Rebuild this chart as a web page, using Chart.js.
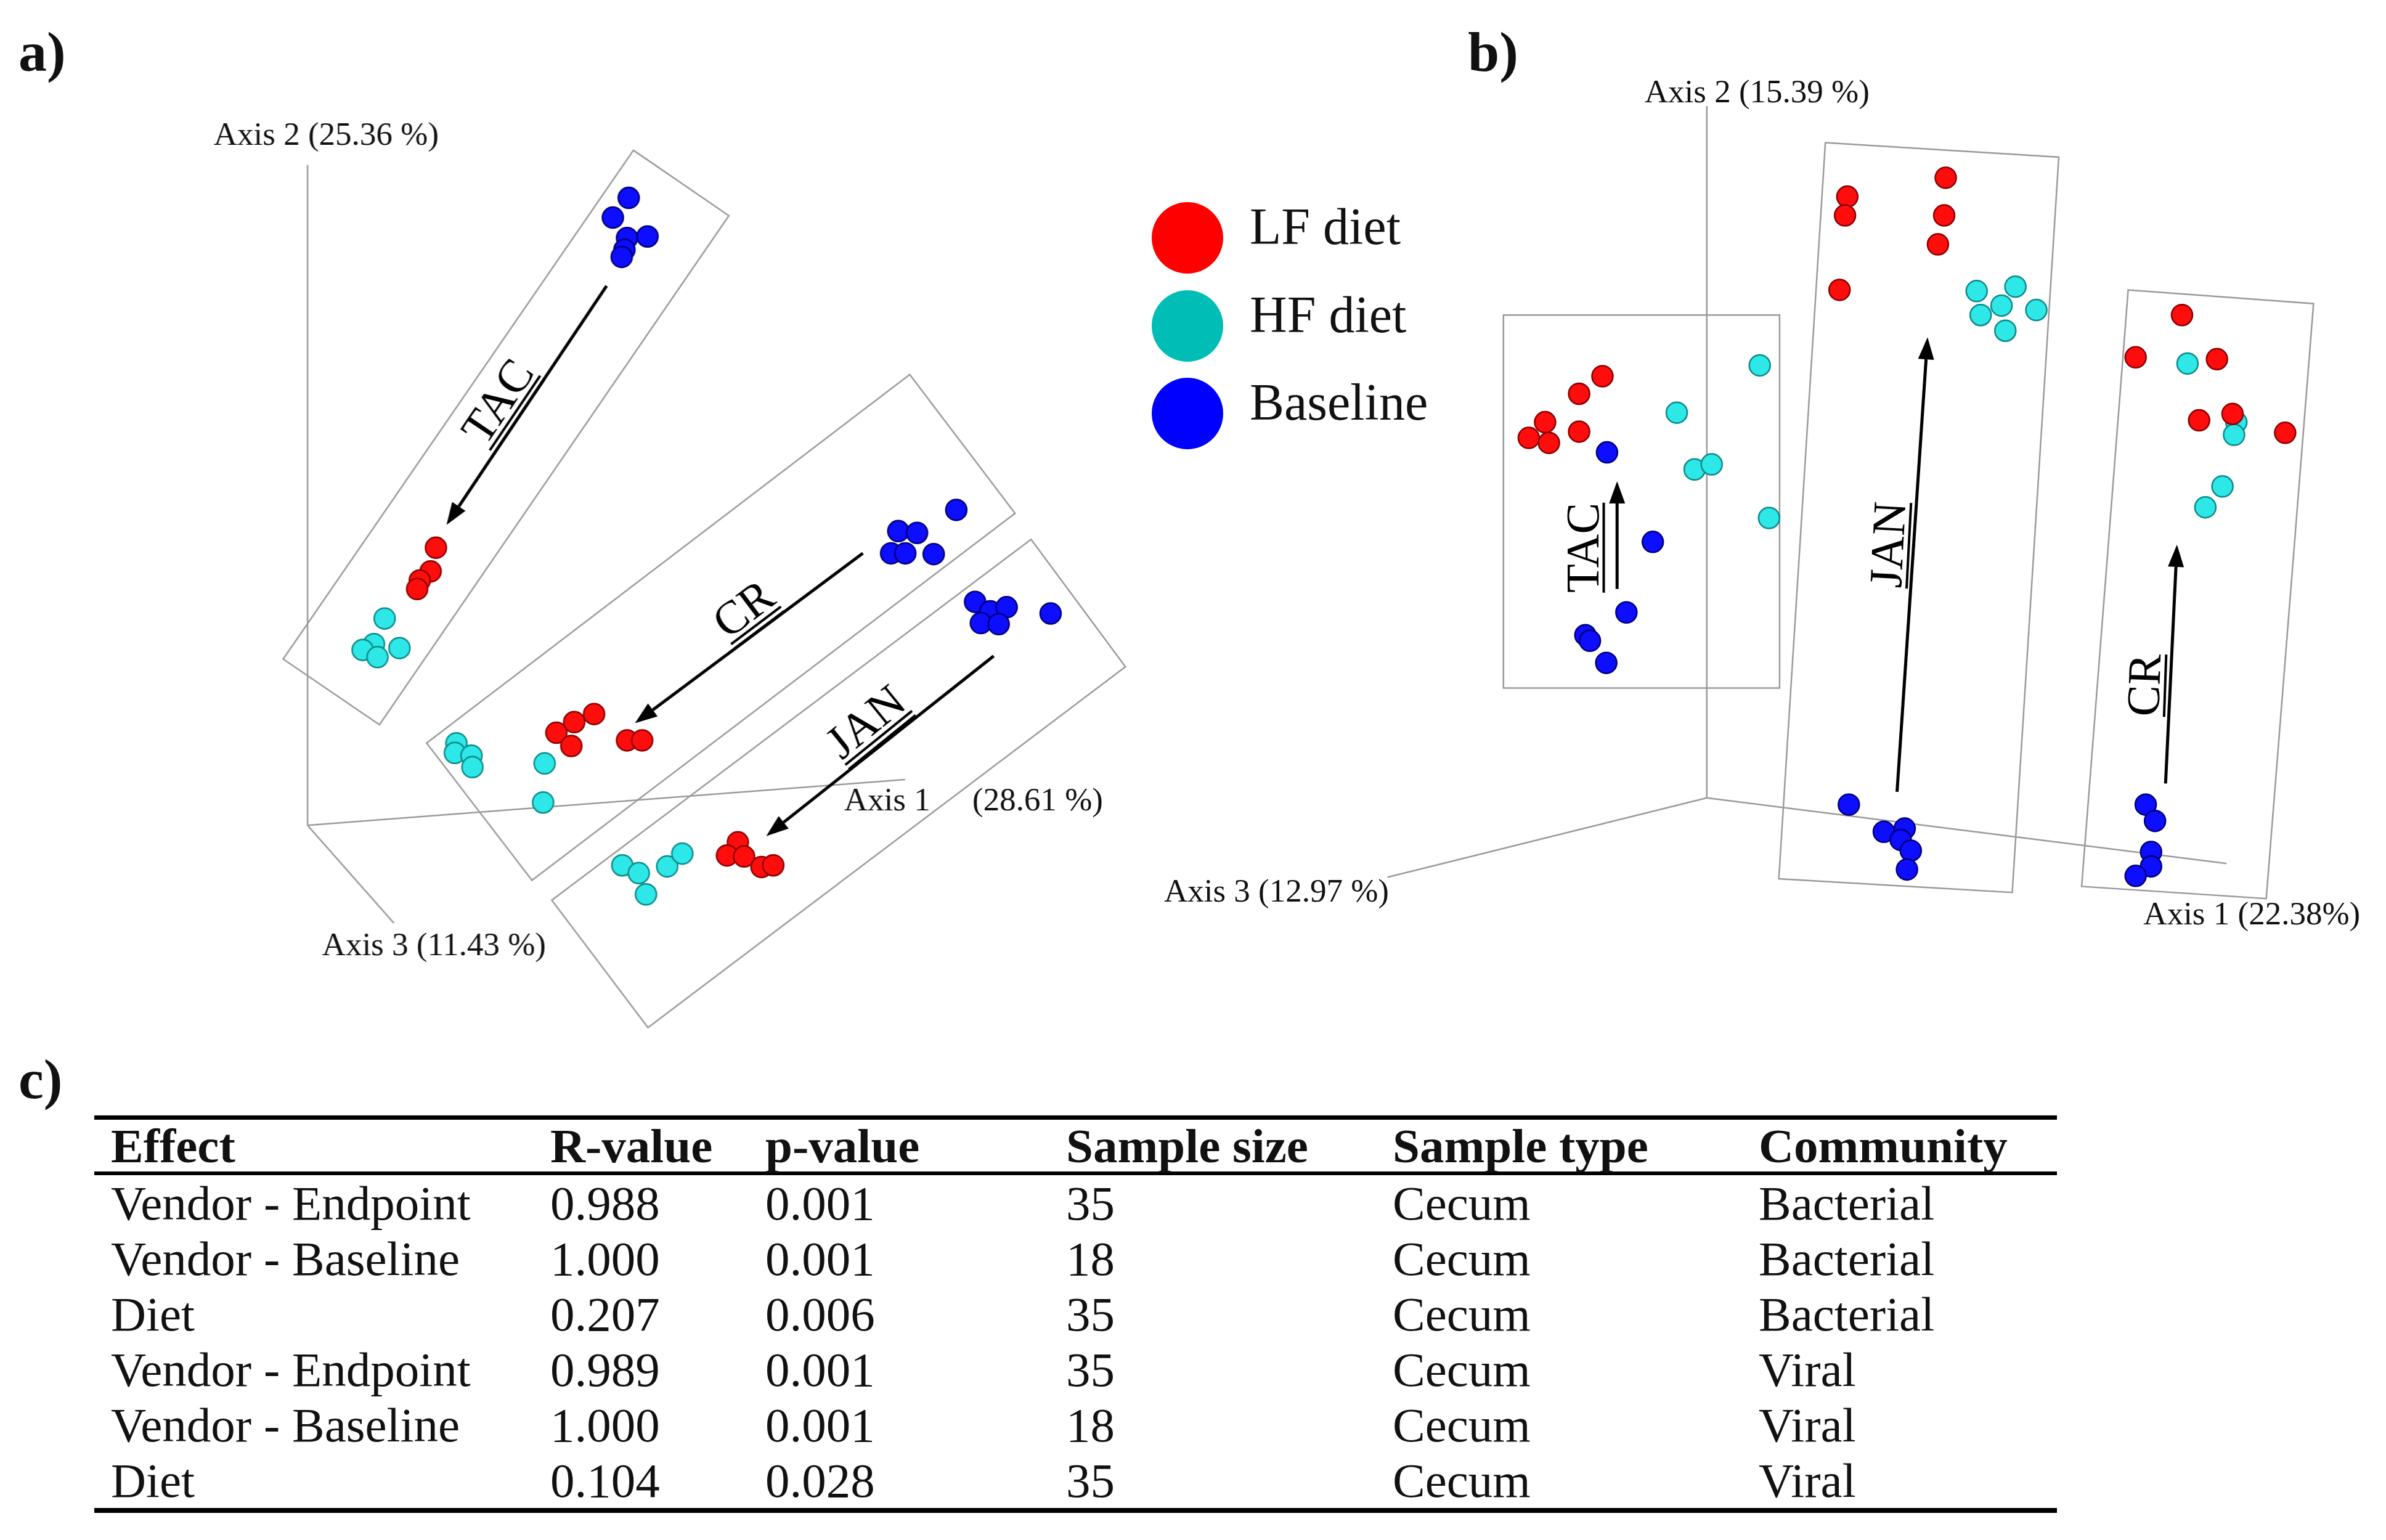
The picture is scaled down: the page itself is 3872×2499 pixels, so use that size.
<!DOCTYPE html>
<html>
<head>
<meta charset="utf-8">
<title>PCoA vendor / diet</title>
<script src="https://cdn.jsdelivr.net/npm/chart.js@4.4.0/dist/chart.umd.min.js"></script>
<style>
  body { margin: 0; background: #fff; }
  #page { position: relative; width: 3872px; height: 2499px; overflow: hidden;
          font-family: "Liberation Serif", "Times New Roman", serif; color: #111; }
  .plot { position: absolute; }
  .tag { position: absolute; font-weight: bold; font-size: 92px; line-height: 1; }
  .key { position: absolute; left: 2028px; font-size: 84px; line-height: 84px; white-space: nowrap; }
  .dot { position: absolute; width: 116px; height: 116px; border-radius: 50%; }
  #stats { position: absolute; left: 153px; top: 1810px; width: 3185px; border-collapse: collapse;
           table-layout: fixed; font-size: 79px; line-height: 1; border-top: 7px solid #000; border-bottom: 8px solid #000; }
  #stats th, #stats td { padding: 0; text-align: left; vertical-align: middle; white-space: nowrap; }
  #stats th { height: 84px; border-bottom: 6px solid #000; font-weight: bold; }
  #stats td { height: 90px; }
  #stats th:first-child, #stats td:first-child { padding-left: 27px; }
</style>
</head>
<body>
<div id="page">
  <div class="tag" style="left:30px; top:38px;">a)</div>
  <div class="tag" style="left:2382px; top:38px;">b)</div>
  <div class="tag" style="left:30px; top:1705px;">c)</div>

  <div class="plot" id="plotA"><canvas id="chartA"></canvas></div>
  <div class="plot" id="plotB"><canvas id="chartB"></canvas></div>

  <div id="legend"></div>

  <table id="stats">
    <colgroup>
      <col style="width:740px"><col style="width:349px"><col style="width:488px">
      <col style="width:530px"><col style="width:594px"><col style="width:484px">
    </colgroup>
    <thead><tr id="statsHead"></tr></thead>
    <tbody id="statsBody"></tbody>
  </table>
</div>

<script>
// reference drawn at 1564 px wide, page is 3872 px
const K = 3872 / 1564;

const seriesNames = ['LF diet', 'HF diet', 'Baseline'];
const pointFill = ['#ff0d0d', '#2ee8e8', '#0d0dff'];
const pointEdge = ['#8a0000', '#0b8a8a', '#00007a'];
const keyFill = ['#ff0000', '#00bdb5', '#0000ff'];

// ---- panel a: bacterial PCoA (projected positions) ----
// groups in order TAC, CR, JAN
const aLF = [
  [285.6, 359.0], [282.1, 374.5], [275.0, 380.5], [273.3, 386.1],
  [389.2, 468.0], [376.2, 473.3], [364.5, 480.3], [374.3, 489.0], [410.8, 485.3], [420.7, 485.3],
  [483.4, 552.1], [476.3, 560.7], [487.5, 561.4], [498.9, 568.3], [506.6, 567.2]
];
const aHF = [
  [252.0, 405.4], [245.0, 422.2], [237.6, 426.0], [247.3, 430.7], [261.7, 424.8],
  [299.0, 487.2], [298.0, 493.5], [308.9, 495.3], [309.5, 502.8], [356.8, 500.4], [355.8, 526.0],
  [407.7, 567.2], [418.5, 572.3], [423.2, 586.2], [437.1, 567.9], [447.0, 559.5]
];
const aBase = [
  [411.9, 129.7], [401.5, 142.6], [410.8, 156.0], [424.2, 155.0], [409.1, 163.7], [407.3, 168.4],
  [626.5, 334.2], [588.5, 348.1], [600.8, 349.3], [583.8, 362.7], [593.1, 362.7], [611.7, 363.2],
  [638.8, 394.5], [648.8, 400.7], [659.5, 398.0], [642.6, 408.4], [654.3, 409.1], [688.3, 402.1]
];

// ---- panel b: viral PCoA (projected positions) ----
// groups in order TAC, JAN, CR
const bLF = [
  [1050.4, 246.6], [1035.1, 258.1], [1012.8, 276.7], [1002.1, 287.0], [1015.3, 290.3], [1035.1, 282.9],
  [1210.9, 128.9], [1209.4, 141.2], [1205.8, 190.0], [1275.4, 116.5], [1274.4, 141.2], [1270.3, 160.2],
  [1430.3, 206.5], [1399.9, 234.2], [1453.2, 235.4], [1441.5, 275.5], [1463.4, 271.3], [1497.9, 283.7]
];
const bHF = [
  [1153.5, 239.5], [1099.1, 270.5], [1110.8, 307.7], [1122.0, 304.4], [1159.6, 339.5],
  [1295.7, 190.8], [1321.1, 187.9], [1312.0, 200.3], [1298.3, 206.5], [1334.8, 203.2], [1314.5, 216.8],
  [1433.9, 238.3], [1465.9, 276.7], [1464.4, 285.0], [1456.8, 318.8], [1445.6, 332.5]
];
const bBase = [
  [1053.4, 296.5], [1083.4, 355.2], [1066.1, 401.4], [1039.2, 416.3], [1042.2, 420.0], [1052.9, 434.5],
  [1211.9, 527.4], [1234.8, 545.2], [1248.5, 543.1], [1245.9, 550.5], [1252.5, 557.6], [1250.0, 569.9],
  [1406.5, 527.4], [1412.6, 538.1], [1410.0, 558.4], [1410.0, 567.9], [1399.9, 574.1]
];

// ---- table c ----
const tableHead = ['Effect', 'R-value', 'p-value', 'Sample size', 'Sample type', 'Community'];
const effects = ['Vendor - Endpoint', 'Vendor - Baseline', 'Diet', 'Vendor - Endpoint', 'Vendor - Baseline', 'Diet'];
const rValues = ['0.988', '1.000', '0.207', '0.989', '1.000', '0.104'];
const pValues = ['0.001', '0.001', '0.006', '0.001', '0.001', '0.028'];
const sampleSizes = ['35', '18', '35', '35', '18', '35'];
const sampleTypes = ['Cecum', 'Cecum', 'Cecum', 'Cecum', 'Cecum', 'Cecum'];
const communities = ['Bacterial', 'Bacterial', 'Bacterial', 'Viral', 'Viral', 'Viral'];

// annotations, in the same units as the points
const aDecor = {
  axes: [[[201.5, 541], [201.5, 108]], [[201.5, 541], [593, 511]], [[201.5, 541], [258, 605]]],
  axisText: [
    ['Axis 2 (25.36 %)', 140, 95], ['Axis 1', 553, 531], ['(28.61 %)', 637, 531], ['Axis 3 (11.43 %)', 211, 626]
  ],
  boxes: [
    [[415, 98.5], [477.5, 141.4], [248.6, 475], [185.5, 432]],
    [[596, 245.5], [665, 336.5], [348.5, 577], [279.5, 487]],
    [[675.5, 353.5], [737.3, 437], [424.5, 673.5], [361.5, 590]]
  ],
  arrows: [[[397.4, 187.4], [292.5, 344]], [[565.3, 362.6], [416, 474]], [[651, 430], [502, 548]]],
  groups: [['TAC', 326, 263, -56, 2], ['CR', 487, 399, -37, 2], ['JAN', 567, 473, -39, 2]]
};
const bDecor = {
  axes: [[[1118.8, 523], [1118.8, 69.5]], [[1118.8, 523], [909.5, 575]], [[1118.8, 523], [1459.5, 566]]],
  axisText: [
    ['Axis 2 (15.39 %)', 1078, 67], ['Axis 3 (12.97 %)', 763, 591], ['Axis 1 (22.38%)', 1405, 606]
  ],
  boxes: [
    [[985.5, 206.5], [1166.5, 206.5], [1166.5, 451], [985.5, 451]],
    [[1196.5, 93.5], [1349.5, 103], [1319, 585], [1166, 576]],
    [[1395, 190], [1516.5, 199], [1485.5, 589], [1364.5, 581]]
  ],
  arrows: [[[1060, 386], [1060, 315.5]], [[1243.5, 519], [1263.5, 221]], [[1419.5, 513.5], [1427, 357]]],
  groups: [['TAC', 1037.5, 359, -90, 1], ['JAN', 1237.5, 357, -87, 1], ['CR', 1405.5, 449, -88, 1]]
};

function makeDecor(d) {
  return {
    id: 'decor',
    beforeDatasetsDraw(chart) {
      const ctx = chart.ctx;
      const sx = chart.scales.x, sy = chart.scales.y;
      const px = p => [sx.getPixelForValue(p[0]), sy.getPixelForValue(p[1])];
      ctx.save();
      ctx.lineCap = 'butt';

      // axes + boxes
      ctx.strokeStyle = '#9a9a9a';
      ctx.lineWidth = 2.5;
      d.axes.forEach(seg => {
        const a = px(seg[0]), b = px(seg[1]);
        ctx.beginPath(); ctx.moveTo(a[0], a[1]); ctx.lineTo(b[0], b[1]); ctx.stroke();
      });
      d.boxes.forEach(poly => {
        ctx.beginPath();
        poly.forEach((p, i) => { const q = px(p); i ? ctx.lineTo(q[0], q[1]) : ctx.moveTo(q[0], q[1]); });
        ctx.closePath(); ctx.stroke();
      });

      // arrows
      ctx.strokeStyle = '#000'; ctx.fillStyle = '#000'; ctx.lineWidth = 5;
      d.arrows.forEach(ar => {
        const a = px(ar[0]), b = px(ar[1]);
        const ang = Math.atan2(b[1] - a[1], b[0] - a[0]);
        const len = 36, half = 13;
        const bx = b[0] - len * Math.cos(ang), by = b[1] - len * Math.sin(ang);
        ctx.beginPath(); ctx.moveTo(a[0], a[1]); ctx.lineTo(bx, by); ctx.stroke();
        ctx.beginPath();
        ctx.moveTo(b[0], b[1]);
        ctx.lineTo(bx + half * Math.sin(ang), by - half * Math.cos(ang));
        ctx.lineTo(bx - half * Math.sin(ang), by + half * Math.cos(ang));
        ctx.closePath(); ctx.fill();
      });

      // vendor labels, underlined
      ctx.font = '76px "Liberation Serif", serif';
      ctx.textAlign = 'center'; ctx.textBaseline = 'alphabetic';
      d.groups.forEach(g => {
        const c = px([g[1], g[2]]);
        const w = ctx.measureText(g[0]).width;
        ctx.save();
        ctx.translate(c[0], c[1]);
        ctx.rotate(g[3] * Math.PI / 180);
        ctx.fillText(g[0], 0, 25);
        ctx.lineWidth = 4;
        for (let k = 0; k < g[4]; k++) {
          const yy = 34 + k * 9;
          ctx.beginPath(); ctx.moveTo(-w / 2, yy); ctx.lineTo(w / 2, yy); ctx.stroke();
        }
        ctx.restore();
      });

      // axis captions
      ctx.font = '53px "Liberation Serif", serif';
      ctx.textAlign = 'left'; ctx.fillStyle = '#111';
      d.axisText.forEach(t => {
        const p = px([t[1], t[2]]);
        ctx.fillText(t[0], p[0], p[1]);
      });
      ctx.restore();
    }
  };
}

function makeChart(boxId, canvasId, x0, x1, y0, y1, sets, decor) {
  const box = document.getElementById(boxId);
  box.style.left = (x0 * K) + 'px';
  box.style.top = (y0 * K) + 'px';
  box.style.width = ((x1 - x0) * K) + 'px';
  box.style.height = ((y1 - y0) * K) + 'px';
  return new Chart(document.getElementById(canvasId), {
    type: 'scatter',
    data: {
      datasets: sets.map((s, i) => ({
        label: seriesNames[i],
        data: s.map(p => ({ x: p[0], y: p[1] })),
        backgroundColor: pointFill[i],
        borderColor: pointEdge[i],
        borderWidth: 2.5,
        pointRadius: 17,
        pointHoverRadius: 17,
        clip: false
      }))
    },
    options: {
      responsive: true,
      maintainAspectRatio: false,
      animation: false,
      events: [],
      layout: { padding: 0, autoPadding: false },
      scales: {
        x: { type: 'linear', min: x0, max: x1, display: false },
        y: { type: 'linear', min: y0, max: y1, reverse: true, display: false }
      },
      plugins: { legend: { display: false }, tooltip: { enabled: false } }
    },
    plugins: [makeDecor(decor)]
  });
}

makeChart('plotA', 'chartA', 0, 760, 0, 700, [aLF, aHF, aBase], aDecor);
makeChart('plotB', 'chartB', 740, 1564, 0, 700, [bLF, bHF, bBase], bDecor);

// legend between the panels
const legend = document.getElementById('legend');
const keyCenters = [386, 529, 671];
seriesNames.forEach((name, i) => {
  const dot = document.createElement('div');
  dot.className = 'dot';
  dot.style.background = keyFill[i];
  dot.style.left = (1927 - 58) + 'px';
  dot.style.top = (keyCenters[i] - 58) + 'px';
  legend.appendChild(dot);
  const txt = document.createElement('div');
  txt.className = 'key';
  txt.textContent = name;
  txt.style.top = (keyCenters[i] - 60) + 'px';
  legend.appendChild(txt);
});

// table
const head = document.getElementById('statsHead');
tableHead.forEach(h => {
  const th = document.createElement('th');
  th.textContent = h;
  head.appendChild(th);
});
const body = document.getElementById('statsBody');
effects.forEach((e, i) => {
  const tr = document.createElement('tr');
  [e, rValues[i], pValues[i], sampleSizes[i], sampleTypes[i], communities[i]].forEach(v => {
    const td = document.createElement('td');
    td.textContent = v;
    tr.appendChild(td);
  });
  body.appendChild(tr);
});
</script>
</body>
</html>
